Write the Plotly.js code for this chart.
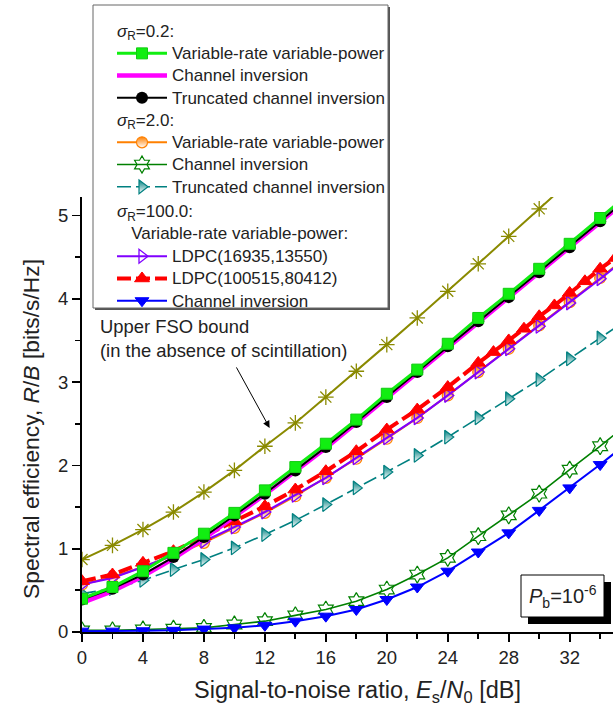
<!DOCTYPE html>
<html><head><meta charset="utf-8">
<script src="https://cdn.plot.ly/plotly-3.0.1.min.js"></script>
<style>html,body{margin:0;padding:0;background:#fff}#chart{width:614px;height:706px}</style>
</head><body><div id="chart"></div>
<script>
// ---- data ----
const snrEven  = [0,2,4,6,8,10,12,14,16,18,20,22,24,26,28,30,32,34,36];
const snrLdpcB = [0,2,4,6,8,10,12,14,16,18,20,22,24,26,27,28,29,30,31,32,33,34,35];

const fsoBound = [0.87,1.04,1.23,1.44,1.68,1.94,2.23,2.51,2.82,3.13,3.45,3.77,4.09,4.42,4.75,5.08,5.41,5.74,6.07];
// sigma_R = 0.2
const vrvp02   = [0.40,0.54,0.73,0.95,1.18,1.43,1.70,1.98,2.26,2.55,2.86,3.15,3.46,3.77,4.06,4.36,4.66,4.97,5.28];
const ci02     = [0.35,0.49,0.67,0.88,1.12,1.38,1.65,1.93,2.21,2.51,2.81,3.11,3.42,3.72,4.01,4.31,4.61,4.92,5.23];
const tci02    = [0.39,0.52,0.69,0.90,1.14,1.40,1.66,1.94,2.22,2.52,2.82,3.12,3.43,3.73,4.02,4.32,4.62,4.93,5.24];
// sigma_R = 2.0
const vrvp20   = [0.57,0.66,0.78,0.92,1.07,1.25,1.43,1.63,1.85,2.08,2.32,2.57,2.84,3.12,3.40,3.68,3.96,4.25,4.54];
const ci20     = [0.02,0.02,0.03,0.04,0.05,0.09,0.13,0.20,0.27,0.37,0.51,0.69,0.89,1.15,1.40,1.66,1.95,2.23,2.53];
const tci20    = [0.46,0.52,0.62,0.75,0.87,1.01,1.17,1.34,1.53,1.73,1.92,2.12,2.34,2.57,2.80,3.03,3.28,3.53,3.78];
// sigma_R = 100.0
const ldpcA    = [0.57,0.65,0.78,0.92,1.09,1.26,1.44,1.64,1.85,2.09,2.33,2.57,2.84,3.12,3.40,3.67,3.95,4.24,4.53];
const ldpcB    = [0.61,0.69,0.83,0.97,1.15,1.33,1.51,1.71,1.93,2.17,2.43,2.67,2.94,3.23,3.36,3.50,3.64,3.79,3.92,4.07,4.21,4.36,4.49];
const ci100    = [0.01,0.01,0.015,0.02,0.035,0.05,0.08,0.13,0.19,0.27,0.39,0.54,0.73,0.96,1.19,1.46,1.73,2.01,2.30];

const groupTitles = ['<i>σ</i><sub>R</sub>=0.2:', '<i>σ</i><sub>R</sub>=2.0:',
                     '<i>σ</i><sub>R</sub>=100.0:<br>\u00a0\u00a0\u00a0Variable-rate variable-power:'];
const names = {
  vrvp: 'Variable-rate variable-power', ci: 'Channel inversion', tci: 'Truncated channel inversion',
  ldpcA: 'LDPC(16935,13550)', ldpcB: 'LDPC(100515,80412)'
};
const xTitle = 'Signal-to-noise ratio, <i>E</i><sub>s</sub>/<i>N</i><sub>0</sub> [dB]';
const yTitle = 'Spectral efficiency, <i>R</i>/<i>B</i> [bits/s/Hz]';
const fsoLabel = 'Upper FSO bound<br>(in the absence of scintillation)';
const pbLabel = '<i>P</i><sub>b</sub>=10<sup>-6</sup>';

// ---- layout helpers ----
const FONT = 'Liberation Sans, Arial, Helvetica, sans-serif';
const W = 614, H = 706, ML = 82, MR = 1, MT = 197, MB = 74;
const PW = W - ML - MR, PH = H - MT - MB;
const px = p => (p - ML) / PW;
const py = p => (H - MB - p) / PH;
const big = t => '<span style="font-size:17px">' + t + '</span>';
const GT = i => (i === 2
  ? {text: groupTitles[i], font: {family: FONT, size: 17, color: '#222'}}
  : {text: big(groupTitles[i]), font: {family: FONT, size: 14.8, color: '#222'}});

function tr(x, y, name, grp, rank, line, marker) {
  const t = {x: x, y: y, type: 'scatter', name: big(name), legendgroup: 'g' + grp,
             legendgrouptitle: GT(grp), legendrank: rank, line: line,
             mode: marker ? 'lines+markers' : 'lines'};
  if (marker) t.marker = marker;
  return t;
}

const data = [
  {x: snrEven, y: fsoBound, type: 'scatter', mode: 'lines+markers', showlegend: false,
   line: {color: '#8a8a00', width: 2},
   marker: {symbol: 'asterisk-open', size: 13, color: '#8a8a00', line: {color: '#8a8a00', width: 1.3}}},
  tr(snrEven, tci20, names.tci, 1, 6, {color: '#008080', width: 1.6, dash: '14px,5px'},
     {symbol: 'triangle-right', size: 12, color: '#008080', line: {color: '#008080', width: 1.2},
      gradient: {type: 'vertical', color: '#ffffff'}}),
  tr(snrEven, vrvp20, names.vrvp, 1, 4, {color: '#ff8000', width: 2},
     {symbol: 'circle', size: 11, color: '#ff8000', line: {color: '#ff8000', width: 1.2},
      gradient: {type: 'vertical', color: '#ffffff'}}),
  tr(snrEven, ldpcA, names.ldpcA, 2, 7, {color: '#8000ff', width: 2.2},
     {symbol: 'triangle-right-open', size: 12, color: '#8000ff', line: {color: '#8000ff', width: 1.3}}),
  tr(snrLdpcB, ldpcB, names.ldpcB, 2, 8, {color: '#ff0000', width: 4, dash: '14px,5px'},
     {symbol: 'triangle-up', size: 13, color: '#ff0000', line: {color: '#ff0000', width: 1}}),
  tr(snrEven, ci20, names.ci, 1, 5, {color: '#008000', width: 1.6},
     {symbol: 'hexagram-open', size: 13, color: '#008000', line: {color: '#008000', width: 1.2}}),
  tr(snrEven, ci100, names.ci, 2, 9, {color: '#0000ff', width: 2},
     {symbol: 'triangle-down', size: 12, color: '#0000ff', line: {color: '#0000ff', width: 1}}),
  tr(snrEven, ci02, names.ci, 0, 2, {color: '#ff00ff', width: 4.5}, null),
  tr(snrEven, tci02, names.tci, 0, 3, {color: '#000000', width: 2},
     {symbol: 'circle', size: 12, color: '#000000'}),
  tr(snrEven, vrvp02, names.vrvp, 0, 1, {color: '#11ee11', width: 3},
     {symbol: 'square', size: 11, color: '#11ee11', line: {color: '#11cc11', width: 1}})
];

const tickFont = {family: FONT, size: 18.5, color: '#222'};
const layout = {
  width: W, height: H, margin: {l: ML, r: MR, t: MT, b: MB, pad: 0},
  paper_bgcolor: '#fff', plot_bgcolor: '#fff', showlegend: true,
  font: {family: FONT, color: '#222'},
  xaxis: {range: [0, PW / 15.24], showgrid: false, zeroline: false, showline: true, linewidth: 2,
          linecolor: '#000', ticks: 'outside', ticklen: 8, tickwidth: 1.8, tickcolor: '#000',
          dtick: 4, tick0: 0, tickfont: tickFont,
          minor: {dtick: 2, ticks: 'outside', ticklen: 5, tickwidth: 1.8, tickcolor: '#000'}},
  yaxis: {range: [0, PH / 83.3], showgrid: false, zeroline: false, showline: true, linewidth: 2,
          linecolor: '#000', ticks: 'outside', ticklen: 8, tickwidth: 1.8, tickcolor: '#000',
          dtick: 1, tick0: 0, tickfont: tickFont,
          minor: {dtick: 0.5, ticks: 'outside', ticklen: 5, tickwidth: 1.8, tickcolor: '#000'}},
  xaxis2: {overlaying: 'x', side: 'top', anchor: 'y', range: [0, PW / 15.24], showgrid: false,
           zeroline: false, showline: true, linewidth: 1.5, linecolor: '#000',
           ticks: 'inside', ticklen: 7, tickwidth: 1.5, tickcolor: '#000', dtick: 2, tick0: 0,
           showticklabels: false},
  yaxis2: {overlaying: 'y', side: 'right', anchor: 'x', range: [0, PH / 83.3], showgrid: false,
           zeroline: false, showline: true, linewidth: 1.5, linecolor: '#000',
           ticks: 'inside', ticklen: 7, tickwidth: 1.5, tickcolor: '#000', dtick: 0.5, tick0: 0,
           showticklabels: false},
  legend: {x: px(112), y: py(15), xanchor: 'left', yanchor: 'top', bgcolor: 'rgba(0,0,0,0)',
           borderwidth: 0, itemwidth: 50, tracegroupgap: 0, traceorder: 'grouped',
           font: {family: FONT, size: 14.8, color: '#222'},
           grouptitlefont: {family: FONT, size: 14.8, color: '#222'}},
  shapes: [
    {type: 'rect', xref: 'paper', yref: 'paper', layer: 'above',
     x0: px(95), x1: px(390), y0: py(310), y1: py(7), fillcolor: '#555', line: {width: 0}},
    {type: 'rect', xref: 'paper', yref: 'paper', layer: 'above',
     x0: px(93), x1: px(388), y0: py(308), y1: py(5), fillcolor: '#fff', line: {color: '#666', width: 1}},
    {type: 'rect', xref: 'paper', yref: 'paper', layer: 'above',
     x0: px(528), x1: px(611), y0: py(624), y1: py(582), fillcolor: '#000', line: {width: 0}},
    {type: 'rect', xref: 'paper', yref: 'paper', layer: 'above',
     x0: px(521), x1: px(604), y0: py(617), y1: py(575), fillcolor: '#fff', line: {color: '#000', width: 1}}
  ],
  annotations: [
    {xref: 'paper', yref: 'paper', x: px(31), y: py(429), xanchor: 'center', yanchor: 'middle',
     text: yTitle, textangle: -90, showarrow: false, font: {family: FONT, size: 22.8, color: '#222'}},
    {xref: 'paper', yref: 'paper', x: px(357), y: py(691), xanchor: 'center', yanchor: 'middle',
     text: xTitle, showarrow: false, font: {family: FONT, size: 23.5, color: '#222'}},
    {xref: 'paper', yref: 'paper', x: px(98), y: py(338), xanchor: 'left', yanchor: 'middle',
     text: fsoLabel, showarrow: false, align: 'left', font: {family: FONT, size: 18.4, color: '#222'}},
    {xref: 'x', yref: 'y', x: 12.31, y: 2.45, ax: -34, ay: -62, text: '', showarrow: true,
     arrowhead: 2, arrowsize: 1.4, arrowwidth: 1, arrowcolor: '#000'},
    {xref: 'paper', yref: 'paper', x: px(562.5), y: py(596), xanchor: 'center', yanchor: 'middle',
     text: pbLabel, showarrow: false, font: {family: FONT, size: 20, color: '#222'}}
  ]
};

Plotly.newPlot('chart', data, layout, {displayModeBar: false, staticPlot: true});
</script>
</body></html>
